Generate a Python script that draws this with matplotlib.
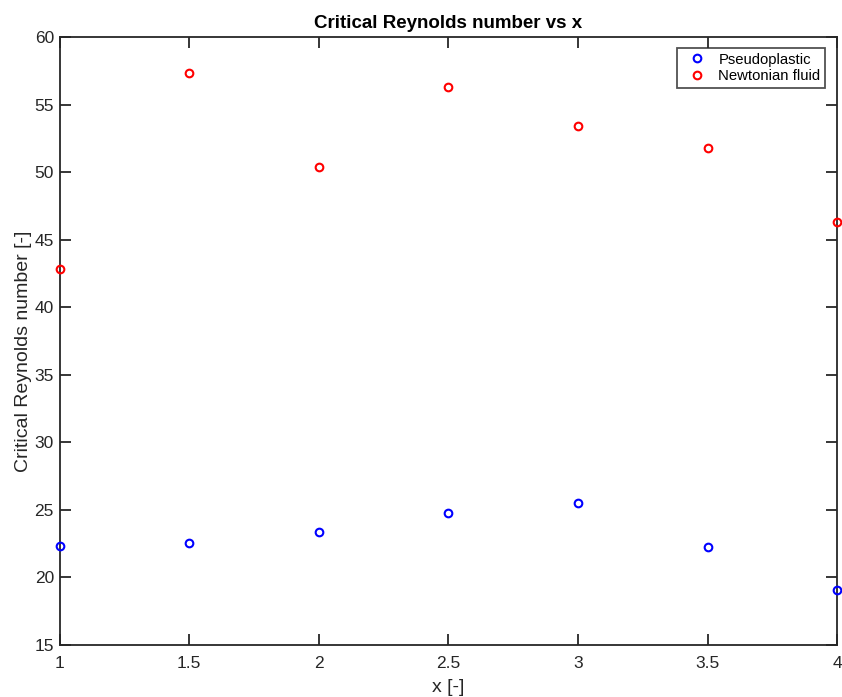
import matplotlib.pyplot as plt

plt.rcParams['font.family'] = ['Liberation Sans', 'DejaVu Sans']

# Ratio x and critical Reynolds numbers for both fluids
x = [1, 1.5, 2, 2.5, 3, 3.5, 4]
re_pseudo = [22.3, 22.55, 23.35, 24.77, 25.53, 22.25, 19.09]
re_newton = [42.81, 57.34, 50.4, 56.32, 53.43, 51.8, 46.35]

fig = plt.figure(figsize=(8.42, 6.97), dpi=100)
ax = fig.add_axes([0.0707, 0.0746, 0.9237, 0.8719])

ax.plot(x, re_pseudo, 'o', mfc='none', mec='#0000ff', mew=1.5, ms=5.5,
        label='Pseudoplastic', clip_on=False, zorder=3)
ax.plot(x, re_newton, 'o', mfc='none', mec='#ff0000', mew=1.5, ms=5.5,
        label='Newtonian fluid', clip_on=False, zorder=3)

ax.set_xlim(1, 4)
ax.set_ylim(15, 60)
ax.set_xticks([1, 1.5, 2, 2.5, 3, 3.5, 4])
ax.set_xticklabels(['1', '1.5', '2', '2.5', '3', '3.5', '4'])
ax.set_yticks(range(15, 61, 5))

dark = '#262626'
for s in ax.spines.values():
    s.set_color(dark)
    s.set_linewidth(1.3)
ax.tick_params(direction='in', length=8, width=1.3, color=dark,
               labelcolor=dark, labelsize=12.5, top=True, right=True)
ax.tick_params(axis='x', pad=8)
ax.tick_params(axis='y', pad=4)

ax.set_title('Critical Reynolds number vs x', fontsize=13.5, fontweight='bold',
             color='black', pad=7)
ax.set_xlabel('x [-]', fontsize=14, color=dark, labelpad=6)
ax.set_ylabel('Critical Reynolds number [-]', fontsize=14, color=dark)
ax.yaxis.set_label_coords(-0.036, 0.4836)

leg = ax.legend(loc='upper right', bbox_to_anchor=(0.984, 0.982),
                fontsize=10.7, frameon=True, fancybox=False, handletextpad=0.45,
                borderpad=0.3, labelspacing=0.18, handlelength=2.0,
                borderaxespad=0)
leg.get_frame().set_edgecolor(dark)
leg.get_frame().set_linewidth(1.3)

fig.savefig('out.png', dpi=100)
